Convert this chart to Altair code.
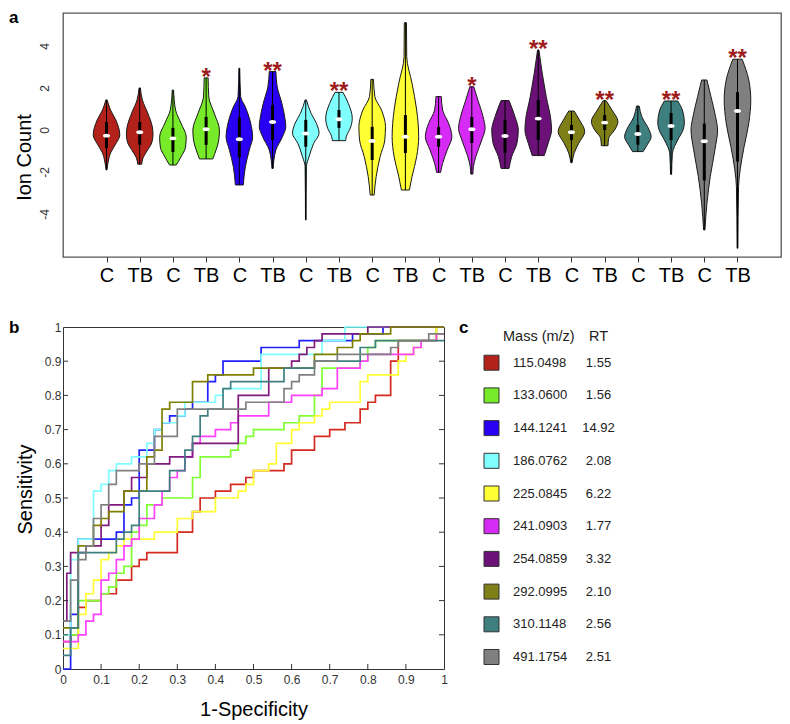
import altair as alt
import pandas as pd

FONT = "Liberation Sans"

# ---------------- shared metabolite info ----------------
MASS = ["115.0498", "133.0600", "144.1241", "186.0762", "225.0845",
        "241.0903", "254.0859", "292.0995", "310.1148", "491.1754"]
RT = ["1.55", "1.56", "14.92", "2.08", "6.22", "1.77", "3.32", "2.10", "2.56", "2.51"]
FILL = ["#B2211A", "#77EB2A", "#2A00F4", "#80FFFF", "#FFFF33",
        "#D62AF5", "#6B1178", "#7F7F18", "#3E7F7F", "#7F7F7F"]
LINE = ["#D42A1F", "#80FF33", "#2020FF", "#80FFFF", "#FFFF33",
        "#FF40FF", "#801A80", "#808000", "#408080", "#808080"]
KEYS = [f"m{i}" for i in range(10)]

# ---------------- panel a: violins ----------------
GROUP_LABELS = ["C", "TB"] * 10
POSITIONS = list(range(1, 21))

# violin outline: Ion Count values (bottom -> top) and relative half width
PROF_V = [
    [-1.90, -1.43, -1.10, -0.71, -0.24, 0.48, 0.95, 1.43],
    [-1.63, -1.33, -1.05, -0.62, -0.24, 0.14, 0.81, 1.43, 2.00],
    [-1.67, -1.29, -0.81, -0.33, 0.33, 0.95, 1.90],
    [-1.38, -0.95, -0.48, 0.00, 0.81, 1.57, 2.48],
    [-2.62, -1.76, -0.95, -0.33, 0.33, 1.10, 1.59, 2.94],
    [-1.83, -1.43, -0.95, -0.32, 0.16, 0.48, 1.27, 2.06, 2.78],
    [-4.29, -1.75, -1.27, -0.63, -0.16, 0.32, 0.79, 1.43],
    [-0.51, -0.32, 0.08, 0.56, 1.27, 1.79],
    [-3.10, -2.22, -1.27, -0.48, 0.16, 0.95, 1.59, 2.41],
    [-2.86, -2.22, -1.27, -0.32, 0.95, 2.22, 3.49, 5.11],
    [-2.02, -1.59, -0.95, -0.32, 0.32, 0.95, 1.59],
    [-2.10, -1.75, -1.27, -0.48, 0.08, 0.63, 1.43, 2.06],
    [-1.83, -1.27, -0.63, 0.00, 0.63, 1.40],
    [-1.22, -0.63, 0.00, 0.48, 1.59, 2.70, 3.81],
    [-1.56, -1.11, -0.63, -0.08, 0.48, 0.90],
    [-0.75, -0.40, 0.00, 0.40, 0.95, 1.40],
    [-1.03, -0.71, -0.32, 0.00, 0.63, 1.14],
    [-2.11, -1.11, -0.48, 0.00, 0.32, 0.95, 1.38],
    [-4.76, -3.49, -2.22, -0.95, 0.00, 0.63, 1.59, 2.38],
    [-5.63, -2.70, -1.90, -0.79, 0.32, 1.43, 2.38, 3.37],
]
PROF_W = [
    [0.04, 0.15, 0.30, 0.65, 1.00, 0.70, 0.30, 0.05],
    [0.15, 0.25, 0.50, 0.90, 1.00, 0.95, 0.60, 0.20, 0.05],
    [0.25, 0.60, 0.95, 1.00, 0.60, 0.20, 0.05],
    [0.50, 0.75, 0.95, 1.00, 0.60, 0.20, 0.15],
    [0.30, 0.45, 0.75, 1.00, 0.85, 0.45, 0.10, 0.03],
    [0.05, 0.10, 0.25, 0.75, 1.00, 0.95, 0.70, 0.35, 0.25],
    [0.02, 0.05, 0.25, 0.60, 1.00, 0.80, 0.40, 0.05],
    [0.50, 0.55, 0.85, 1.00, 0.70, 0.30],
    [0.15, 0.30, 0.60, 0.95, 1.00, 0.70, 0.20, 0.10],
    [0.30, 0.50, 0.85, 1.00, 0.85, 0.50, 0.10, 0.08],
    [0.15, 0.30, 0.65, 1.00, 0.75, 0.30, 0.20],
    [0.08, 0.12, 0.30, 0.75, 1.00, 0.85, 0.45, 0.15],
    [0.30, 0.50, 0.90, 1.00, 0.75, 0.30],
    [0.45, 0.75, 1.00, 0.95, 0.60, 0.30, 0.05],
    [0.05, 0.20, 0.55, 1.00, 0.60, 0.20],
    [0.25, 0.30, 0.75, 1.00, 0.55, 0.10],
    [0.40, 0.70, 1.00, 0.85, 0.30, 0.10],
    [0.04, 0.10, 0.50, 0.90, 1.00, 0.85, 0.50],
    [0.05, 0.20, 0.45, 0.80, 1.00, 0.85, 0.50, 0.20],
    [0.03, 0.08, 0.20, 0.50, 0.85, 1.00, 0.85, 0.35],
]
MEDIANS = [-0.27, -0.11, -0.40, 0.03, -0.44, 0.38, -0.17, 0.51, -0.52, -0.32,
           -0.32, 0.03, -0.29, 0.54, -0.11, 0.35, -0.19, 0.19, -0.54, 0.90]
Q1S = [-0.86, -0.71, -1.05, -0.71, -1.30, -0.48, -0.80, 0.10, -1.43, -1.10,
       -0.80, -0.62, -1.10, -0.48, -0.48, 0.00, -0.71, -0.48, -2.40, -1.50]
Q3S = [0.38, 0.38, 0.10, 0.62, 0.60, 1.19, 0.48, 0.95, 0.15, 0.71,
       0.15, 0.62, 0.48, 1.43, 0.24, 0.71, 0.24, 0.81, 0.30, 1.80]
STARS = ["", "", "", "*", "", "**", "", "**", "", "",
         "", "*", "", "**", "", "**", "", "**", "", "**"]
Y_TICKS_A = [-4, -2, 0, 2, 4]

# ---------------- panel b: ROC step curves (1-specificity, sensitivity) ----------------
RED_X = [0, 0.02, 0.04, 0.06, 0.10, 0.14, 0.18, 0.20, 0.22, 0.30, 0.34, 0.36, 0.40, 0.44,
         0.48, 0.50, 0.58, 0.60, 0.66, 0.70, 0.74, 0.78, 0.80, 0.82, 0.86, 0.88, 0.98, 1.0]
RED_Y = [0.08, 0.10, 0.18, 0.20, 0.22, 0.26, 0.30, 0.32, 0.34, 0.40, 0.46, 0.50, 0.52, 0.54,
         0.56, 0.58, 0.60, 0.64, 0.68, 0.70, 0.72, 0.76, 0.78, 0.80, 0.90, 0.96, 1.0, 1.0]
GRN_X = [0, 0.04, 0.10, 0.12, 0.14, 0.16, 0.18, 0.20, 0.22, 0.26, 0.34, 0.36, 0.44, 0.46,
         0.48, 0.50, 0.58, 0.62, 0.66, 0.68, 0.78, 0.80, 0.82, 0.98, 1.0]
GRN_Y = [0.10, 0.20, 0.22, 0.24, 0.28, 0.30, 0.40, 0.42, 0.48, 0.50, 0.56, 0.62, 0.64, 0.66,
         0.68, 0.70, 0.72, 0.74, 0.80, 0.88, 0.90, 0.94, 0.96, 1.0, 1.0]
BLU_X = [0, 0.02, 0.04, 0.14, 0.16, 0.18, 0.20, 0.24, 0.26, 0.28, 0.32, 0.34, 0.38, 0.40,
         0.42, 0.52, 0.62, 0.76, 0.84, 1.0]
BLU_Y = [0, 0.16, 0.38, 0.40, 0.48, 0.50, 0.64, 0.70, 0.72, 0.74, 0.76, 0.78, 0.84, 0.86,
         0.90, 0.94, 0.96, 0.98, 1.0, 1.0]
CYA_X = [0, 0.02, 0.04, 0.08, 0.10, 0.12, 0.14, 0.18, 0.22, 0.24, 0.26, 0.30, 0.32, 0.40,
         0.42, 0.52, 0.68, 0.74, 1.0]
CYA_Y = [0.10, 0.32, 0.38, 0.52, 0.54, 0.58, 0.60, 0.62, 0.66, 0.70, 0.72, 0.74, 0.78, 0.80,
         0.82, 0.92, 0.96, 1.0, 1.0]
YEL_X = [0, 0.04, 0.06, 0.08, 0.10, 0.12, 0.14, 0.16, 0.24, 0.30, 0.34, 0.40, 0.46, 0.48,
         0.50, 0.54, 0.56, 0.60, 0.62, 0.66, 0.68, 0.70, 0.78, 0.80, 0.88, 0.90, 0.92, 0.94,
         0.98, 1.0]
YEL_Y = [0.06, 0.16, 0.22, 0.26, 0.32, 0.34, 0.36, 0.38, 0.40, 0.44, 0.46, 0.50, 0.52, 0.54,
         0.58, 0.60, 0.66, 0.70, 0.72, 0.74, 0.76, 0.78, 0.84, 0.86, 0.90, 0.92, 0.94, 0.96,
         1.0, 1.0]
MAG_X = [0, 0.04, 0.06, 0.08, 0.10, 0.12, 0.14, 0.16, 0.18, 0.20, 0.24, 0.26, 0.28, 0.30,
         0.32, 0.34, 0.36, 0.40, 0.44, 0.46, 0.54, 0.60, 0.68, 0.72, 0.78, 0.80, 0.92, 0.94,
         0.98, 1.0]
MAG_Y = [0.08, 0.10, 0.14, 0.16, 0.26, 0.28, 0.32, 0.36, 0.38, 0.44, 0.48, 0.52, 0.56, 0.58,
         0.62, 0.66, 0.68, 0.70, 0.72, 0.74, 0.78, 0.80, 0.82, 0.88, 0.90, 0.92, 0.94, 0.96,
         0.98, 0.98]
PUR_X = [0, 0.01, 0.02, 0.06, 0.10, 0.12, 0.16, 0.18, 0.22, 0.28, 0.34, 0.46, 0.54, 0.60,
         0.62, 0.64, 0.66, 0.68, 0.80, 1.0]
PUR_Y = [0.14, 0.28, 0.34, 0.36, 0.42, 0.48, 0.52, 0.56, 0.60, 0.62, 0.66, 0.80, 0.88, 0.90,
         0.92, 0.94, 0.96, 0.98, 1.0, 1.0]
OLI_X = [0, 0.04, 0.08, 0.10, 0.12, 0.16, 0.22, 0.24, 0.26, 0.28, 0.34, 0.38, 0.50, 0.66,
         0.72, 0.76, 0.78, 0.86, 1.0]
OLI_Y = [0.12, 0.36, 0.42, 0.44, 0.46, 0.52, 0.62, 0.64, 0.76, 0.78, 0.84, 0.86, 0.88, 0.92,
         0.94, 0.96, 0.98, 1.0, 1.0]
TEA_X = [0, 0.02, 0.04, 0.14, 0.16, 0.18, 0.20, 0.28, 0.32, 0.34, 0.36, 0.38, 0.42, 0.44,
         0.58, 0.66, 0.78, 0.82, 1.0]
TEA_Y = [0.04, 0.12, 0.34, 0.38, 0.40, 0.42, 0.52, 0.58, 0.64, 0.68, 0.74, 0.76, 0.82, 0.84,
         0.88, 0.90, 0.94, 0.96, 0.96]
GRY_X = [0, 0.02, 0.04, 0.06, 0.08, 0.10, 0.12, 0.14, 0.20, 0.24, 0.30, 0.48, 0.58, 0.60,
         0.62, 0.66, 0.72, 0.86, 0.88, 0.96, 1.0]
GRY_Y = [0.14, 0.26, 0.32, 0.36, 0.44, 0.48, 0.54, 0.58, 0.60, 0.68, 0.76, 0.78, 0.82, 0.84,
         0.86, 0.90, 0.92, 0.94, 0.96, 0.98, 0.98]
ROC_X = [RED_X, GRN_X, BLU_X, CYA_X, YEL_X, MAG_X, PUR_X, OLI_X, TEA_X, GRY_X]
ROC_Y = [RED_Y, GRN_Y, BLU_Y, CYA_Y, YEL_Y, MAG_Y, PUR_Y, OLI_Y, TEA_Y, GRY_Y]
TICKS_B = [0, 0.1, 0.2, 0.3, 0.4, 0.5, 0.6, 0.7, 0.8, 0.9, 1]
INNER_TICKS_B = [0.1, 0.2, 0.3, 0.4, 0.5, 0.6, 0.7, 0.8, 0.9]

# ---------------- build data frames ----------------
HALF = 0.4  # max half width of a violin in x units
vrows = []
for i, (vs, ws) in enumerate(zip(PROF_V, PROF_W)):
    p = POSITIONS[i]
    for v, w in zip(vs, ws):
        vrows.append({"vid": f"v{i:02d}", "pos": p, "v": v,
                      "x0": p - w * HALF, "x1": p + w * HALF})
vdf = pd.DataFrame(vrows)
VIDS = [f"v{i:02d}" for i in range(20)]
VCOLORS = [FILL[i // 2] for i in range(20)]

sdf = pd.DataFrame({
    "pos": POSITIONS,
    "vmin": [min(v) for v in PROF_V],
    "vmax": [max(v) for v in PROF_V],
    "med": MEDIANS, "q1": Q1S, "q3": Q3S, "star": STARS,
})
star_df = sdf[sdf["star"] != ""]

rrows = []
for k, (xs, ys) in enumerate(zip(ROC_X, ROC_Y)):
    for j, (x, y) in enumerate(zip(xs, ys)):
        rrows.append({"curve": KEYS[k], "idx": j, "fx": x, "se": y})
rdf = pd.DataFrame(rrows)

cdf = pd.DataFrame({"row": list(range(10)), "key": KEYS, "mass": MASS, "rt": RT})

# ---------------- panel a ----------------
WA, HA = 718, 244
sx_a = alt.Scale(domain=[-0.31, 21.31], nice=False, zero=False)
sy_a = alt.Scale(domain=[-6.05, 5.57], nice=False, zero=False)
label_expr = "[" + ",".join(f"'{g}'" for g in GROUP_LABELS) + "][datum.value - 1]"
ax_a = alt.Axis(values=POSITIONS, labelExpr=label_expr, title=None, grid=False,
                domain=False, ticks=True, tickSize=5, tickColor="#333", tickWidth=1,
                labelFontSize=20, labelColor="black", labelPadding=19,
                labelBaseline="alphabetic", labelOverlap=False, labelFlush=False)
ay_a = alt.Axis(values=Y_TICKS_A,
                labelExpr="datum.value < 0 ? '-' + abs(datum.value) : '' + datum.value",
                title="Ion Count", titleFontSize=20, titleFontWeight="normal",
                titleColor="black", titleX=-39, titleY=144, titleAngle=-90,
                titleAlign="center", titleBaseline="middle",
                grid=False, domain=False, ticks=False, tickSize=0,
                labelAngle=-90, labelAlign="center", labelBaseline="middle",
                labelPadding=19, labelFontSize=12, labelColor="#333",
                labelOverlap=False, labelFlush=False)


def xa(field):
    return alt.X(field, scale=sx_a, axis=ax_a, title=None)


def ya(field):
    return alt.Y(field, scale=sy_a, axis=ay_a, title="Ion Count")


violin = alt.Chart(vdf).mark_area(
    orient="horizontal", interpolate="monotone", stroke="#1a1a1a",
    strokeWidth=1, opacity=1
).encode(
    y=ya("v:Q"),
    x=alt.X("x0:Q", scale=sx_a, axis=ax_a, title=None, stack=False),
    x2="x1:Q",
    color=alt.Color("vid:N", scale=alt.Scale(domain=VIDS, range=VCOLORS), legend=None),
)
whisker = alt.Chart(sdf).mark_rule(color="black", strokeWidth=1).encode(
    x=xa("pos:Q"), y=ya("vmin:Q"), y2="vmax:Q")
box = alt.Chart(sdf).mark_rule(color="black", strokeWidth=3).encode(
    x=xa("pos:Q"), y=ya("q1:Q"), y2="q3:Q")
ELLIPSE = "M-1,0A1,0.55,0,1,1,1,0A1,0.55,0,1,1,-1,0Z"
median = alt.Chart(sdf).mark_point(shape=ELLIPSE, filled=True, color="white",
                                   opacity=1, size=52).encode(
    x=xa("pos:Q"), y=ya("med:Q"))
stars = alt.Chart(star_df).mark_text(color="#9E1B1B", fontSize=24, fontWeight="bold",
                                     baseline="alphabetic", dy=7).encode(
    x=xa("pos:Q"), y=ya("vmax:Q"), text="star:N")
lab_a = alt.Chart(pd.DataFrame({"t": ["a"]})).mark_text(
    align="left", baseline="alphabetic", fontSize=17, fontWeight="bold", color="black"
).encode(text="t:N", x=alt.value(-54), y=alt.value(10))

panel_a = alt.layer(violin, whisker, box, median, stars, lab_a).properties(
    width=WA, height=HA, view=alt.ViewBackground(stroke="#555", strokeWidth=1.3))

# ---------------- panel b ----------------
WB, HB = 381, 342
sx_b = alt.Scale(domain=[0, 1], nice=False, zero=False)
sy_b = alt.Scale(domain=[0, 1], nice=False, zero=False)
ax_b = alt.Axis(values=TICKS_B, format="~g", title="1-Specificity", titleFontSize=20,
                titleFontWeight="normal", titleColor="black", titleY=46,
                titleBaseline="alphabetic", grid=False, domain=False, ticks=False,
                tickSize=0, labelPadding=14, labelBaseline="alphabetic",
                labelFontSize=12, labelColor="#333", labelOverlap=False, labelFlush=False)
ay_b = alt.Axis(values=TICKS_B, format="~g", title="Sensitivity", titleFontSize=20,
                titleFontWeight="normal", titleColor="black", titleX=-38, titleY=162,
                titleAngle=-90, titleAlign="center", titleBaseline="middle",
                grid=False, domain=False, ticks=False, tickSize=0, labelPadding=2,
                labelBaseline="middle", labelFontSize=12, labelColor="#333",
                labelOverlap=False, labelFlush=False)


def xb(field):
    return alt.X(field, scale=sx_b, axis=ax_b, title="1-Specificity")


def yb(field):
    return alt.Y(field, scale=sy_b, axis=ay_b, title="Sensitivity")


lines = alt.Chart(rdf).mark_line(interpolate="step-after", strokeWidth=1.7).encode(
    x=xb("fx:Q"), y=yb("se:Q"),
    color=alt.Color("curve:N", scale=alt.Scale(domain=KEYS, range=LINE), legend=None),
    order="idx:Q")
tdf = pd.DataFrame({"t": INNER_TICKS_B})
tick_l = alt.Chart(tdf).mark_rule(color="#333", strokeWidth=1).encode(
    y=yb("t:Q"), x=alt.value(0), x2=alt.value(5))
tick_r = alt.Chart(tdf).mark_rule(color="#333", strokeWidth=1).encode(
    y=yb("t:Q"), x=alt.value(WB - 5), x2=alt.value(WB))
tick_b = alt.Chart(tdf).mark_rule(color="#333", strokeWidth=1).encode(
    x=xb("t:Q"), y=alt.value(HB), y2=alt.value(HB - 5))
lab_b = alt.Chart(pd.DataFrame({"t": ["b"]})).mark_text(
    align="left", baseline="alphabetic", fontSize=17, fontWeight="bold", color="black"
).encode(text="t:N", x=alt.value(-54), y=alt.value(6))

panel_b = alt.layer(lines, tick_l, tick_r, tick_b, lab_b).properties(
    width=WB, height=HB, view=alt.ViewBackground(stroke="#333", strokeWidth=1))

# ---------------- panel c ----------------
sy_c = alt.Scale(domain=[-1.092, 9.367], reverse=True, nice=False, zero=False)
swatch = alt.Chart(cdf).mark_square(size=225, filled=True, stroke="#333",
                                    strokeWidth=1, opacity=1).encode(
    x=alt.value(30.5),
    y=alt.Y("row:Q", scale=sy_c, axis=None),
    color=alt.Color("key:N", scale=alt.Scale(domain=KEYS, range=FILL), legend=None))
mass_t = alt.Chart(cdf).mark_text(align="left", baseline="middle", fontSize=13,
                                  color="#222").encode(
    x=alt.value(52), y=alt.Y("row:Q", scale=sy_c, axis=None), text="mass:N")
rt_t = alt.Chart(cdf).mark_text(align="center", baseline="middle", fontSize=13,
                                color="#222").encode(
    x=alt.value(137.5), y=alt.Y("row:Q", scale=sy_c, axis=None), text="rt:N")
head_m = alt.Chart(pd.DataFrame({"t": ["Mass (m/z)"]})).mark_text(
    align="left", baseline="middle", fontSize=14.5, color="#222"
).encode(text="t:N", x=alt.value(42), y=alt.value(10))
head_r = alt.Chart(pd.DataFrame({"t": ["RT"]})).mark_text(
    align="left", baseline="middle", fontSize=14.5, color="#222"
).encode(text="t:N", x=alt.value(128), y=alt.value(10))
lab_c = alt.Chart(pd.DataFrame({"t": ["c"]})).mark_text(
    align="left", baseline="alphabetic", fontSize=17, fontWeight="bold", color="black"
).encode(text="t:N", x=alt.value(-2), y=alt.value(6))

panel_c = alt.layer(swatch, mass_t, rt_t, head_m, head_r, lab_c).properties(
    width=300, height=HB, view=alt.ViewBackground(strokeWidth=0))

# ---------------- layout ----------------
bottom = alt.hconcat(panel_b, panel_c, spacing=17, bounds="flush").resolve_scale(
    x="independent", y="independent", color="independent")
chart = alt.vconcat(panel_a, bottom, spacing=70, bounds="flush").resolve_scale(
    x="independent", y="independent", color="independent"
).properties(
    padding={"left": 0, "top": 0, "right": 0, "bottom": 0}
).configure(font=FONT).configure_axis(labelFont=FONT, titleFont=FONT)

chart.save("out.html", embed_options={"renderer": "svg", "actions": False})
